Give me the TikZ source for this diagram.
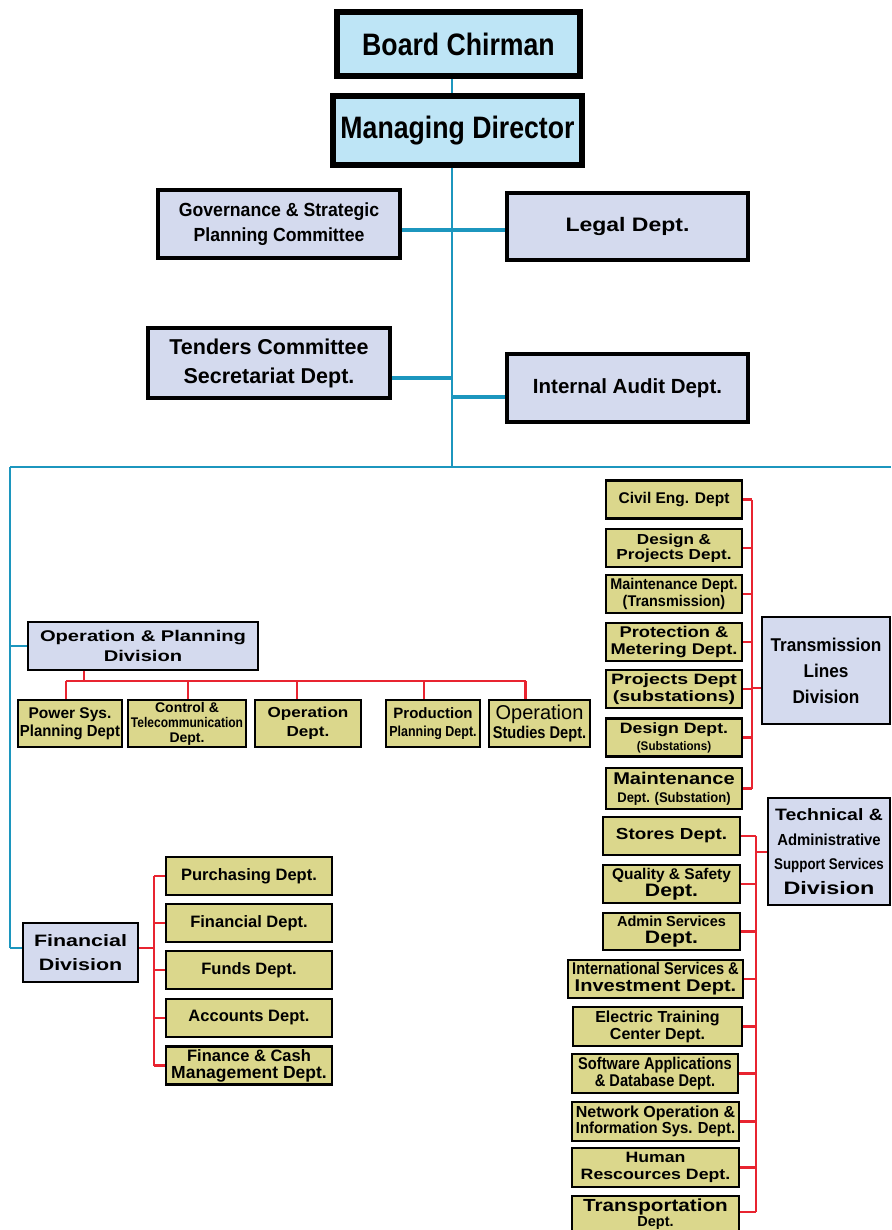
\documentclass[tikz,border=0pt]{standalone}
\usepackage{fontspec}
\setmainfont{Liberation Sans}
\newfontfamily\nar{Liberation Sans}[FakeStretch=0.86]
\newfontfamily\semi{Liberation Sans}[FakeStretch=0.93]
\newfontfamily\wid{Liberation Sans}[FakeStretch=1.18]
\newfontfamily\xwid{Liberation Sans}[FakeStretch=1.3]
\definecolor{topblue}{RGB}{190,229,246}
\definecolor{lav}{RGB}{212,218,238}
\definecolor{olive}{RGB}{219,215,140}
\definecolor{tealc}{RGB}{28,150,190}
\definecolor{redc}{RGB}{232,36,48}
\newcommand{\fs}[2]{\fontsize{#1}{#2}\selectfont}
\tikzset{
  topbox/.style={draw=black, line width=5.5pt, fill=topblue, inner sep=0pt, align=center, font=\nar\bfseries\fs{31}{34}},
  staffbox/.style={draw=black, line width=4.5pt, fill=lav, inner sep=0pt, align=center, font=\bfseries},
  divbox/.style={draw=black, line width=2.6pt, fill=lav, inner sep=0pt, align=center, font=\bfseries},
  deptbox/.style={draw=black, line width=2.6pt, fill=olive, inner sep=0pt, align=center, font=\bfseries},
  tline/.style={draw=tealc, line width=2.4pt},
  tthick/.style={draw=tealc, line width=4pt},
  rline/.style={draw=redc, line width=2.2pt}
}
\begin{document}
\begin{tikzpicture}[x=1pt,y=-1pt]
\useasboundingbox (0,0) rectangle (891,1230);
\clip (0,0) rectangle (891,1230);
\fill[white] (0,0) rectangle (891,1230);

% ---------- junction points ----------
\coordinate (hub) at (452,467);
\coordinate (yGL) at (0,230);
\coordinate (tj) at (452,378);
\coordinate (aj) at (452,397);
\coordinate (busL) at (10,467);
\coordinate (busR) at (891,467);
\coordinate (obus) at (84,681);
\coordinate (fbus) at (154,948);
\coordinate (tbus) at (752,688);
\coordinate (sbus) at (756,852);

% ---------- top management ----------
\node[topbox, minimum width=243pt, minimum height=64pt] (board) at (458.5,44) {Board Chirman};
\node[topbox, minimum width=249pt, minimum height=69pt] (md) at (457.5,130.5) {Managing Director};
\draw[tline] (board.south -| hub) -- (md.north -| hub);
\draw[tline] (md.south -| hub) -- (hub);
\draw[tline] (busL) -- (busR);

% ---------- staff units ----------
\node[staffbox, minimum width=242pt, minimum height=68pt, font=\semi\bfseries\fs{19}{25}] (gov) at (279,224) {Governance \& Strategic\\Planning Committee};
\node[staffbox, minimum width=241pt, minimum height=67pt, font=\wid\bfseries\fs{19.5}{20}] (legal) at (627.5,226.5) {Legal Dept.};
\node[staffbox, minimum width=242pt, minimum height=70pt, font=\bfseries\fs{21.5}{29}] (tenders) at (269,363) {Tenders Committee\\Secretariat Dept.};
\node[staffbox, minimum width=241pt, minimum height=68pt, font=\bfseries\fs{20.5}{20}] (audit) at (627.5,388) {Internal Audit Dept.};
\draw[tthick] (gov.east |- yGL) -- (legal.west |- yGL);
\draw[tthick] (tenders.east |- tj) -- (tj);
\draw[tthick] (aj) -- (audit.west |- aj);

% ---------- Operation & Planning Division ----------
\node[divbox, minimum width=230pt, minimum height=48pt, font=\xwid\bfseries\fs{15.5}{20}] (opd) at (143,646) {Operation \& Planning\\Division};
\draw[tline] (busL) |- (fbus -| busL) coordinate (fdjoin);
\draw[tline] (busL |- opd.west) -- (opd.west);

\node[deptbox, minimum width=104pt, minimum height=47pt, font=\bfseries\fs{15.5}{18}] (p1) at (70,723.5) {Power Sys.\\{\semi\fs{16}{18}Planning Dept}};
\node[deptbox, minimum width=118pt, minimum height=47pt, font=\bfseries\fs{13}{15}] (p2) at (187,723.5) {{\fs{14}{15}Control \&}\\{\nar\fs{14}{15}Telecommunication}\\{\fs{14}{15}Dept.}};
\node[deptbox, minimum width=106pt, minimum height=47pt, font=\wid\bfseries\fs{14.5}{19}] (p3) at (308,723.5) {Operation\\Dept.};
\node[deptbox, minimum width=94pt, minimum height=47pt, font=\bfseries\fs{15}{18}] (p4) at (433,723.5) {Production\\{\nar\fs{14.5}{18}Planning Dept.}};
\node[deptbox, minimum width=101pt, minimum height=47pt, font=\bfseries\fs{15}{19}] (p5) at (539.5,723.5) {{\mdseries\fs{20}{19}Operation}\\{\nar\fs{17}{19}Studies Dept.}};
\draw[rline] (obus |- opd.south) -- (obus);
\draw[rline] ([xshift=-4pt]obus -| p1.north) -- ([xshift=-14pt]obus -| p5.north);
\foreach \p/\dx in {p1/-4,p2/1,p3/-11,p4/-9,p5/-14}
  \draw[rline] ([xshift=\dx pt]obus -| \p.north) -- ([xshift=\dx pt]\p.north);

% ---------- Financial Division ----------
\node[divbox, minimum width=115pt, minimum height=59pt, font=\xwid\bfseries\fs{16.5}{24}] (fd) at (80.5,952.5) {Financial\\Division};
\draw[tline] (fdjoin) -- (fd.west |- fdjoin);
\node[deptbox, minimum width=166pt, minimum height=38pt, font=\bfseries\fs{16.5}{17}] (f1) at (249,876) {Purchasing Dept.};
\node[deptbox, minimum width=166pt, minimum height=38pt, font=\bfseries\fs{16.5}{17}] (f2) at (249,923) {Financial Dept.};
\node[deptbox, minimum width=166pt, minimum height=38pt, font=\bfseries\fs{16.5}{17}] (f3) at (249,970) {Funds Dept.};
\node[deptbox, minimum width=166pt, minimum height=38pt, font=\bfseries\fs{16.5}{17}] (f4) at (249,1018) {Accounts Dept.};
\node[deptbox, minimum width=166pt, minimum height=38pt, font=\bfseries\fs{16.5}{17}] (f5) at (249,1065.5) {Finance \& Cash\\{\fs{17.5}{17}Management Dept.}};
\draw[rline] (fd.east |- fbus) -- (fbus);
\draw[rline] (fbus |- f1.west) -- (fbus |- f5.west);
\foreach \f in {f1,f2,f3,f4,f5} \draw[rline] (fbus |- \f.west) -- (\f.west);

% ---------- Transmission Lines Division ----------
\node[divbox, minimum width=128pt, minimum height=107pt, font=\semi\bfseries\fs{18.5}{26}] (tld) at (826,670.5) {Transmission\\Lines\\Division};
\node[deptbox, minimum width=136pt, minimum height=38pt, font=\bfseries\fs{15.5}{17}] (t1) at (674,499.5) {Civil Eng. Dept};
\node[deptbox, minimum width=136pt, minimum height=38pt, font=\wid\bfseries\fs{14.5}{15}] (t2) at (674,548) {Design \&\\Projects Dept.};
\node[deptbox, minimum width=136pt, minimum height=38pt, font=\semi\bfseries\fs{15.5}{17}] (t3) at (674,594) {Maintenance Dept.\\(Transmission)};
\node[deptbox, minimum width=136pt, minimum height=38pt, font=\wid\bfseries\fs{15.5}{17}] (t4) at (674,642) {Protection \&\\Metering Dept.};
\node[deptbox, minimum width=136pt, minimum height=38pt, font=\xwid\bfseries\fs{15}{17}] (t5) at (674,689) {Projects Dept\\(substations)};
\node[deptbox, minimum width=136pt, minimum height=38pt, font=\bfseries\fs{14}{17}] (t6) at (674,737.5) {{\wid\fs{15}{17}Design Dept.}\\{\semi\fs{12.5}{17}(Substations)}};
\node[deptbox, minimum width=136pt, minimum height=41pt, font=\bfseries\fs{14}{18}] (t7) at (674,788.5) {{\wid\fs{17}{18}Maintenance}\\{\semi\fs{14}{18}Dept. (Substation)}};
\draw[rline] (tbus |- t1.east) -- (tbus |- t7.east);
\foreach \t in {t1,t2,t3,t4,t5,t6,t7} \draw[rline] (\t.east) -- (tbus |- \t.east);
\draw[rline] (tbus) -- (tld.west |- tbus);

% ---------- Technical & Administrative Support Services Division ----------
\node[divbox, minimum width=122pt, minimum height=107pt, font=\bfseries\fs{15}{24.5}] (tas) at (829,851.5) {{\wid\fs{16.5}{24}Technical \&}\\{\semi\fs{16}{24}Administrative}\\{\nar\fs{15.5}{24}Support Services}\\{\xwid\fs{18}{24}Division}};
\node[deptbox, minimum width=137pt, minimum height=38pt, font=\wid\bfseries\fs{16}{17}] (s1) at (671.5,836) {Stores Dept.};
\node[deptbox, minimum width=137pt, minimum height=38pt, font=\bfseries\fs{15}{17}] (s2) at (671.5,884) {{\fs{15.5}{17}Quality \& Safety}\\{\wid\fs{18}{17}Dept.}};
\node[deptbox, minimum width=137pt, minimum height=37pt, font=\bfseries\fs{15}{17}] (s3) at (671.5,931.5) {{\fs{14.5}{17}Admin Services}\\{\wid\fs{18}{17}Dept.}};
\node[deptbox, minimum width=175pt, minimum height=38pt, font=\bfseries\fs{15}{17}] (s4) at (655.5,979) {{\nar\fs{17}{17}International Services \&}\\{\wid\fs{17}{17}Investment Dept.}};
\node[deptbox, minimum width=169pt, minimum height=39pt, font=\bfseries\fs{16}{17}] (s5) at (657.5,1026.5) {Electric Training\\Center Dept.};
\node[deptbox, minimum width=166pt, minimum height=39pt, font=\nar\bfseries\fs{17}{16.5}] (s6) at (655,1073.5) {Software Applications\\\& Database Dept.};
\node[deptbox, minimum width=167pt, minimum height=39pt, font=\bfseries\fs{15}{16.5}] (s7) at (655.5,1121.5) {{\fs{16}{16}Network Operation \&}\\{\semi\fs{16}{16}Information Sys. Dept.}};
\node[deptbox, minimum width=167pt, minimum height=39pt, font=\wid\bfseries\fs{15}{17}] (s8) at (655.5,1167.5) {Human\\Rescources Dept.};
\node[deptbox, minimum width=167pt, minimum height=36pt, font=\bfseries\fs{15}{14.5}] (s9) at (655.5,1214) {{\wid\fs{17.5}{14.5}Transportation}\\{\fs{14.5}{14.5}Dept.}};
\coordinate (s9stub) at (0,1212);
\draw[rline] (sbus |- s1.east) -- (sbus |- s9stub);
\foreach \s in {s1,s2,s3,s4,s5,s6,s7,s8} \draw[rline] (\s.east) -- (sbus |- \s.east);
\draw[rline] (s9.east |- s9stub) -- (sbus |- s9stub);
\draw[rline] (sbus) -- (tas.west |- sbus);
\end{tikzpicture}
\end{document}
